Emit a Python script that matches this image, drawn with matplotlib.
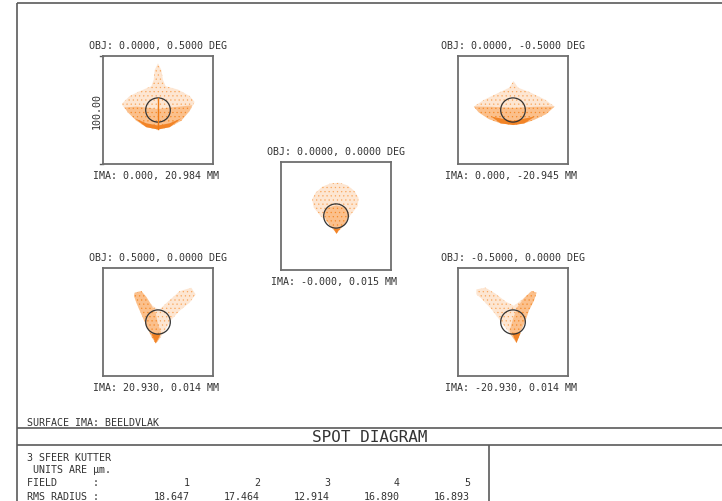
import matplotlib
matplotlib.use('Agg')
import matplotlib.pyplot as plt
from matplotlib.patches import Polygon, Circle

# ---------------- data ----------------
obj_labels = ["OBJ: 0.0000, 0.5000 DEG", "OBJ: 0.0000, -0.5000 DEG", "OBJ: 0.0000, 0.0000 DEG",
              "OBJ: 0.5000, 0.0000 DEG", "OBJ: -0.5000, 0.0000 DEG"]
ima_labels = ["IMA: 0.000, 20.984 MM", "IMA: 0.000, -20.945 MM", "IMA: -0.000, 0.015 MM",
              "IMA: 20.930, 0.014 MM", "IMA: -20.930, 0.014 MM"]
field_numbers = ["1", "2", "3", "4", "5"]
rms_radius = ["18.647", "17.464", "12.914", "16.890", "16.893"]
scale_label = "100.00"
box_range_um = 100.0
airy_radius_um = 11.2

# spot outlines (micrometres, relative to chief ray): light envelope, dense region, densest core
spot1_outer = [(-32.4, 6.2), (-25.8, 12.9), (-16.7, 17.4), (-6.1, 22.0), (-3.9, 28.0), (-3.0, 37.1),
               (0, 43.2), (3.0, 37.1), (4.5, 28.0), (7.0, 22.0), (18.2, 18.9), (28.8, 12.9), (33.3, 7.4),
               (28.8, -0.8), (21.2, -9.8), (10.6, -15.9), (0, -18.0), (-10.6, -15.9), (-19.7, -9.8),
               (-27.3, -2.3), (-32.4, 4.4)]
spot1_dense = [(-30.3, 2.3), (-19.7, 3.2), (-10.6, 2.3), (0, 0.8), (10.6, 2.3), (19.7, 3.2), (31.2, 4.4),
               (28.8, -0.8), (21.2, -9.8), (10.6, -15.9), (0, -18.0), (-10.6, -15.9), (-19.7, -9.8),
               (-27.3, -2.3)]
spot1_core = [(-21.2, -7.7), (-10.6, -12.3), (0, -14.4), (10.6, -12.3), (21.2, -7.7), (10.6, -15.9),
              (0, -18.0), (-10.6, -15.9)]
spot1_caustic = [(0, 11.4), (0, -17.5)]

spot2_outer = [(-35.6, 3.2), (-26.5, 9.3), (-14.2, 15.4), (-3.5, 20.6), (0.5, 26.8), (4.7, 20.6),
               (14.8, 16.7), (28.6, 9.9), (37.8, 3.2), (30.1, -3.8), (19.4, -9.0), (10.2, -12.4),
               (0.5, -13.9), (-11.2, -12.4), (-21.9, -8.4), (-31.0, -2.3)]
spot2_dense = [(-35.6, 3.2), (-20, 3), (0, 2), (20, 3), (37.8, 3.2), (30.1, -3.8), (19.4, -9.0),
               (10.2, -12.4), (0.5, -13.9), (-11.2, -12.4), (-21.9, -8.4), (-31.0, -2.3)]
spot2_core = [(-20, -6), (0, -10), (20, -6), (10.2, -12.4), (0.5, -13.9), (-11.2, -12.4)]

spot3_outer = [(0.5, -16.0), (-6.3, -7.7), (-14.0, 0), (-20.2, 7.7), (-21.7, 15.4), (-18.6, 21.5),
               (-12.5, 27.1), (-4.8, 30.2), (2.9, 30.8), (10.6, 28.3), (16.8, 23.1), (20.5, 16.9),
               (19.8, 9.2), (13.7, 1.5), (7.5, -6.8)]
spot3_dense = [(0.5, -16.0), (-4.8, -9.8), (-9.4, -3.1), (-10.9, 3.1), (-7.8, 7.7), (0.5, 9.8),
               (9.1, 7.7), (11.5, 1.5), (9.1, -6.2), (4.5, -11.7)]
spot3_core = [(-2.3, -11.7), (0.5, -16.6), (3.2, -11.7)]

spot4_outer = [(-21.2, 27.1), (-15.2, 28.6), (-10.6, 23.2), (-6.1, 15.9), (0.9, 11.1), (9.1, 18.9),
               (19.7, 28.6), (30.3, 31.7), (34.2, 25.6), (28.8, 18.0), (19.7, 10.5), (12.1, 2.0),
               (6.1, -8.3), (0.9, -16.2), (-2.1, -19.8), (-6.1, -13.2), (-10.6, -3.2), (-15.2, 7.4),
               (-19.7, 18.0), (-21.8, 24.1)]
spot4_dense = [(-21.2, 27.1), (-15.2, 28.6), (-10.6, 23.2), (-6.1, 15.9), (-2, 8), (0, -2), (3, -10),
               (0.9, -16.2), (-2.1, -19.8), (-6.1, -13.2), (-10.6, -3.2), (-15.2, 7.4), (-19.7, 18.0),
               (-21.8, 24.1)]
spot4_core = [(-6.1, -10.7), (-2.1, -19.8), (2.4, -11.4)]

spot5_outer = [(-33.3, 30.2), (-25.1, 31.8), (-16.0, 26.3), (-6.8, 19.0), (0.8, 15.0), (9.9, 22.0),
               (16.9, 28.7), (21.4, 27.2), (19.0, 19.6), (14.4, 10.5), (11.4, 1.4), (6.8, -9.3),
               (3.2, -19.3), (-2.3, -11.4), (-9.9, -1.1), (-19.0, 11.1), (-28.1, 21.1), (-33.3, 25.7)]
spot5_dense = [(21.4, 27.2), (16.9, 28.7), (9.9, 22.0), (4, 14), (0, 3), (-3, -8), (-2.3, -11.4),
               (3.2, -19.3), (6.8, -9.3), (11.4, 1.4), (14.4, 10.5), (19.0, 19.6)]
spot5_core = [(-1, -10), (3.2, -19.3), (7, -10)]

spots = [
    (spot1_outer, spot1_dense, spot1_core, spot1_caustic),
    (spot2_outer, spot2_dense, spot2_core, None),
    (spot3_outer, spot3_dense, spot3_core, None),
    (spot4_outer, spot4_dense, spot4_core, None),
    (spot5_outer, spot5_dense, spot5_core, None),
]

# ---------------- layout (pixels) ----------------
W, H = 722, 502
box_pos = [(103, 57), (458, 57), (281, 163), (103, 269), (458, 269)]
box_w, box_h = 110, 108
col_x = [190, 260, 330, 400, 470]

FONT = 'DejaVu Sans Mono'
TXT = '#333333'
LINE = '#5a5a5a'
fs = 7.2

plt.rcParams['hatch.linewidth'] = 0.4

fig = plt.figure(figsize=(W / 100, H / 100), dpi=100)
fig.patch.set_facecolor('white')
ax0 = fig.add_axes([0, 0, 1, 1])
ax0.set_xlim(0, W)
ax0.set_ylim(H, 0)
ax0.axis('off')

# frame
lk = dict(color=LINE, lw=1.2, solid_capstyle='butt')
ax0.plot([17, 17], [4, H], **lk)
ax0.plot([17, W], [4, 4], **lk)
ax0.plot([17, W], [429, 429], **lk)
ax0.plot([17, W], [446, 446], **lk)
ax0.plot([489, 489], [446, H], **lk)

# texts
for (bx, by), ol, il in zip(box_pos, obj_labels, ima_labels):
    cx = bx + box_w / 2
    ax0.text(cx, by - 11, ol, ha='center', va='center', fontsize=fs, family=FONT, color=TXT)
    ax0.text(cx - 2, by + box_h + 11, il, ha='center', va='center', fontsize=fs, family=FONT, color=TXT)

# scale bar
ax0.text(97, box_pos[0][1] + box_h / 2, scale_label, rotation=90, ha='center', va='center',
         fontsize=fs, family=FONT, color=TXT)
ax0.plot([100, 103], [box_pos[0][1], box_pos[0][1]], color=LINE, lw=1)
ax0.plot([100, 103], [box_pos[0][1] + box_h, box_pos[0][1] + box_h], color=LINE, lw=1)

ax0.text(27, 423, "SURFACE IMA: BEELDVLAK", ha='left', va='center', fontsize=fs, family=FONT, color=TXT)
ax0.text(370, 438, "SPOT DIAGRAM", ha='center', va='center', fontsize=11.5, family=FONT, color=TXT)
ax0.text(27, 458, "3 SFEER KUTTER", ha='left', va='center', fontsize=fs, family=FONT, color=TXT)
ax0.text(27, 470, " UNITS ARE \u00b5m.", ha='left', va='center', fontsize=fs, family=FONT, color=TXT)
ax0.text(27, 483, "FIELD      :", ha='left', va='center', fontsize=fs, family=FONT, color=TXT)
ax0.text(27, 497, "RMS RADIUS :", ha='left', va='center', fontsize=fs, family=FONT, color=TXT)
for x, f, r in zip(col_x, field_numbers, rms_radius):
    ax0.text(x, 483, f, ha='right', va='center', fontsize=fs, family=FONT, color=TXT)
    ax0.text(x, 497, r, ha='right', va='center', fontsize=fs, family=FONT, color=TXT)

# spot boxes
half = box_range_um / 2
for (bx, by), (outer, dense, core, caustic) in zip(box_pos, spots):
    ax = fig.add_axes([bx / W, 1 - (by + box_h) / H, box_w / W, box_h / H])
    ax.set_xlim(-half, half)
    ax.set_ylim(-half, half)
    ax.set_xticks([])
    ax.set_yticks([])
    ax.set_facecolor('none')
    for s in ax.spines.values():
        s.set_color('#6e6e6e')
        s.set_linewidth(1.3)
    ax.add_patch(Polygon(outer, closed=True, facecolor='#fde6d2', edgecolor='#f9a75e',
                         lw=0, hatch='....'))
    ax.add_patch(Polygon(dense, closed=True, facecolor='#fbc08c', edgecolor='#f58a2a',
                         lw=0, hatch='....'))
    ax.add_patch(Polygon(core, closed=True, facecolor='#f28427', lw=0))
    if caustic is not None:
        xs, ys = zip(*caustic)
        ax.plot(xs, ys, color='#f07a14', lw=1.0)
    ax.add_patch(Circle((0, 0), airy_radius_um, fill=False, edgecolor='#333333', lw=0.9))

fig.savefig('out.png', dpi=100, facecolor='white')
